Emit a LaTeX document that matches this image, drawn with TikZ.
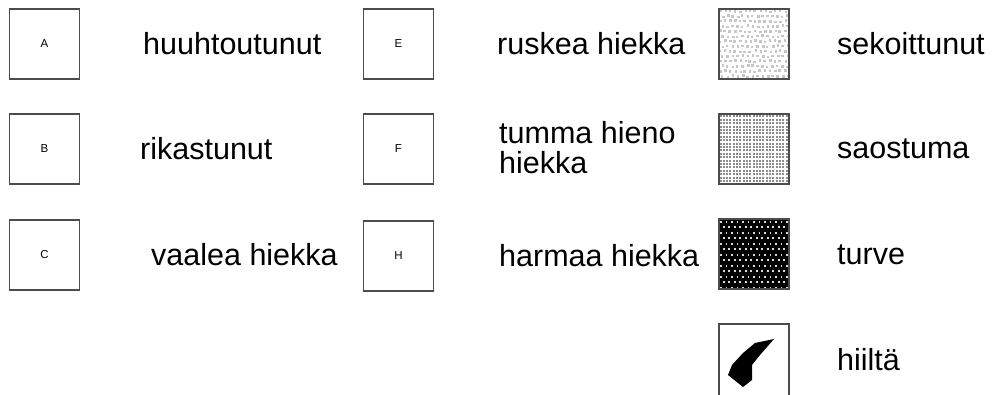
\documentclass[tikz,border=0pt]{standalone}
\usepackage{fontspec}
\setmainfont{Liberation Sans}

\begin{document}
\begin{tikzpicture}[x=1pt, y=-1pt,
  lbox/.style={draw=black!70, line width=1.5pt, minimum size=70pt, inner sep=0pt,
    font=\fontsize{11.5}{12}\selectfont},
  lbl/.style={anchor=west, inner sep=0pt, align=left,
    font=\fontsize{30.5}{30}\selectfont}]

\useasboundingbox (0,0) rectangle (1007,395);

% letter boxes
\node[lbox] (boxA) at (44.5,44) {A};
\node[lbox] (boxB) at (44.5,149) {B};
\node[lbox] (boxC) at (44.5,255) {C};
\node[lbox] (boxE) at (398.5,44) {E};
\node[lbox] (boxF) at (398.5,149) {F};
\node[lbox] (boxH) at (398.5,256) {H};

\node[lbl] (txtA) at (143,44) {huuhtoutunut};
\node[lbl] (txtB) at (140,149) {rikastunut};
\node[lbl] (txtC) at (151,255) {vaalea hiekka};
\node[lbl] (txtE) at (497,44) {ruskea hiekka};
\node[lbl] (txtF) at (499,148) {tumma hieno\\hiekka};
\node[lbl] (txtH) at (499,256) {harmaa hiekka};

% sekoittunut
\pgfmathsetseed{7}
\begin{scope}
  \clip (719,10) rectangle (789,78);
  \foreach \i in {0,...,14}
    \foreach \j in {0,...,14}
      \fill[black!22] ({719+5*\i+2.5*mod(\j,2)+0.8*rand},{10+5*\j+0.8*rand}) rectangle +(2.5,2.5);
\end{scope}
\node[lbox] (boxMix) at (754,44) {};

% saostuma
\begin{scope}
  \clip (719,115) rectangle (789,183);
  \foreach \i in {0,...,21}
    \foreach \j in {0,...,20}
      \fill[black!45] ({719.5+3.3*\i},{115.5+3.4*\j}) rectangle +(2,2);
\end{scope}
\node[lbox] (boxSed) at (754,149) {};

% turve
\begin{scope}
  \clip (719,220) rectangle (789,288);
  \fill[black] (719,220) rectangle (789,288);
  \foreach \i in {0,...,13}
    \foreach \j in {0,...,13}
      \fill[white!85!black] ({720+5.5*\i+2.75*mod(\j,2)},{221+5.5*\j}) rectangle +(1.8,1.8);
\end{scope}
\node[lbox] (boxPeat) at (754,254) {};

% hiilta
\node[lbox, minimum height=76pt] (boxCoal) at (754,362) {};
\fill[black] (774,339) -- (755,343) -- (743,353) -- (732,365) -- (728,375)
  -- (743,387) -- (752,380) -- (752,365) -- (760,355) -- cycle;

\node[lbl] (txtMix) at (837,44) {sekoittunut};
\node[lbl] (txtSed) at (837,149) {saostuma};
\node[lbl] (txtPeat) at (837,255) {turve};
\node[lbl] (txtCoal) at (837,360) {hiiltä};

\end{tikzpicture}
\end{document}
